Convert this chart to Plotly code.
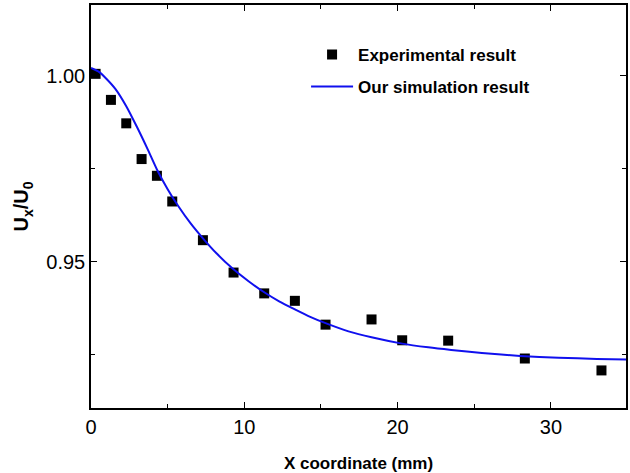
import plotly.graph_objects as go

# Experimental data
exp_x = [0.3, 1.3, 2.3, 3.3, 4.3, 5.3, 7.3, 9.3, 11.3, 13.3, 15.3, 18.3, 20.3, 23.3, 28.3, 33.3]
exp_y = [1.0005, 0.9935, 0.9872, 0.9776, 0.9731, 0.9662, 0.9558, 0.9471, 0.9415, 0.9395,
         0.9331, 0.9345, 0.9289, 0.9288, 0.9240, 0.9208]

# Simulation curve
sim_x = [0, 0.5, 1.0, 1.6, 2.3, 3.0, 3.7, 4.3, 5.0, 5.7, 6.5, 7.3, 8.2, 9.2, 10.3, 11.3,
         12.3, 13.3, 14.3, 15.3, 16.8, 18.3, 20.3, 22.0, 23.5, 25.5, 28.0, 30.5, 33.0, 35.0]
sim_y = [1.0021, 1.0011, 0.9992, 0.9964, 0.9918, 0.9862, 0.9802, 0.9748, 0.9695, 0.9649,
         0.9603, 0.9563, 0.9522, 0.9483, 0.9447, 0.9418, 0.9393, 0.9372, 0.9352, 0.9335,
         0.9313, 0.9297, 0.9280, 0.9270, 0.9263, 0.9255, 0.9247, 0.9242, 0.9239, 0.9237]

x_ticks = [0, 10, 20, 30]
y_ticks = [0.95, 1.00]
y_tick_labels = ["0.95", "1.00"]

FONT = "Liberation Sans, Arial"

fig = go.Figure()
fig.add_trace(go.Scatter(
    x=exp_x, y=exp_y, mode="markers", name="Experimental result",
    marker=dict(symbol="square", size=10, color="black"),
    legendgroup="a",
))
fig.add_trace(go.Scatter(
    x=sim_x, y=sim_y, mode="lines", name="Our simulation result",
    line=dict(color="#1010ee", width=2, shape="spline", smoothing=0.6),
    legendgroup="b",
))

axis_common = dict(
    showline=True, linecolor="black", linewidth=1.5, mirror="ticks",
    ticks="inside", ticklen=6, tickwidth=1.2, tickcolor="black",
    showgrid=False, zeroline=False,
    tickfont=dict(family=FONT, size=20, color="black"),
)

fig.update_xaxes(
    range=[0, 34.9], tickvals=x_ticks,
    minor=dict(ticks="inside", ticklen=4, tickwidth=1.2, tickcolor="black", dtick=5, tick0=0),
    title=dict(text="<b>X coordinate (mm)</b>",
               font=dict(family=FONT, size=17, color="black"), standoff=20),
    **axis_common,
)
fig.update_yaxes(
    range=[0.9107, 1.019], tickvals=y_ticks, ticktext=y_tick_labels,
    minor=dict(ticks="inside", ticklen=4, tickwidth=1.2, tickcolor="black", dtick=0.025, tick0=0.9),
    title=dict(text="<b>U<sub>x</sub>/U<sub>0</sub></b>",
               font=dict(family=FONT, size=20, color="black"), standoff=12),
    **axis_common,
)

fig.update_layout(
    width=630, height=473,
    margin=dict(l=91, r=2, t=5, b=65),
    plot_bgcolor="white", paper_bgcolor="white",
    legend=dict(
        x=0.402, y=0.921, xanchor="left", yanchor="top",
        bgcolor="rgba(0,0,0,0)", itemwidth=42,
        font=dict(family=FONT, size=17, color="black", weight="bold"),
        traceorder="grouped", tracegroupgap=7,
    ),
)

fig.write_html("out.html")
